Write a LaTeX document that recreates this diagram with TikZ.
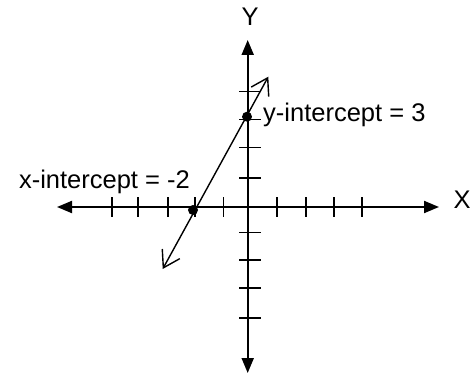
\documentclass[tikz,border=0pt]{standalone}
\usepackage{fontspec}
\setmainfont{Liberation Sans}
\usetikzlibrary{arrows.meta}
\begin{document}
\begin{tikzpicture}[x=1pt,y=-1pt,
  axis/.style={line width=2pt,{Triangle[length=15pt,width=12pt]}-{Triangle[length=15pt,width=12pt]}},
  tickmark/.style={line width=1.6pt},
  graphline/.style={line width=1.4pt,{Straight Barb[length=16pt,width=20pt]}-{Straight Barb[length=16pt,width=20pt]}},
  dotmark/.style={circle,fill=black,inner sep=0pt,minimum size=10pt},
  lbl/.style={font=\fontsize{25.5}{30}\selectfont,inner sep=0pt}]
\useasboundingbox (0,0) rectangle (470,377);
% axis ends
\coordinate (xl) at (57,207);
\coordinate (xr) at (439,207);
\coordinate (yt) at (247.7,40);
\coordinate (yb) at (247.7,373);
\draw[axis] (xl) -- (xr);
\draw[axis] (yt) -- (yb);
% ticks on x axis
\foreach \t in {111.7,137.7,167.7,195,223.3,276.7,305.7,334,361.7}
  \draw[tickmark] (\t,197) -- (\t,217);
% ticks on y axis
\foreach \t in {91.7,119.3,147.3,177.7,232.3,260,287.7,317.7}
  \draw[tickmark] (239,\t) -- (261,\t);
% graph line
\coordinate (lo) at (162.7,269);
\coordinate (hi) at (268.3,76.7);
\draw[graphline] (lo) -- (hi);
% intercept dots
\node[dotmark] (xint) at (193,210) {};
\node[dotmark] (yint) at (247,116.7) {};
% labels
\node[lbl] (ylab) at (250,17) {Y};
\node[lbl] (xlab) at (462,200) {X};
\node[lbl,anchor=base east] (xintlab) at (190,188) {x-intercept = -2};
\node[lbl,anchor=base west] (yintlab) at (263,121) {y-intercept = 3};
\end{tikzpicture}
\end{document}
